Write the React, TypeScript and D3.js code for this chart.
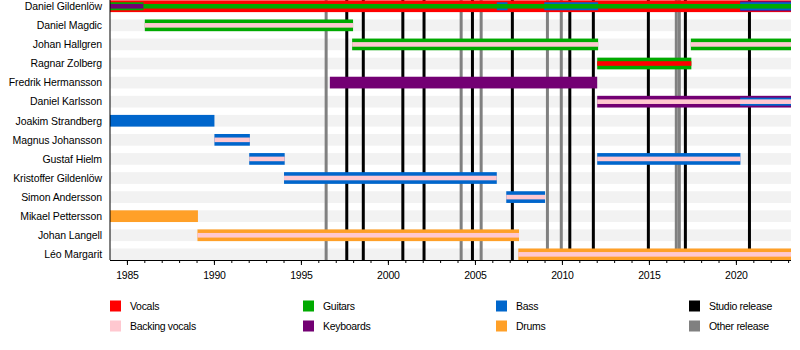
import React from "react";
import * as d3 from "d3";

const START = "1984-01-01";
const END = "2023-02-20";

const members = [
  "Daniel Gildenlöw",
  "Daniel Magdic",
  "Johan Hallgren",
  "Ragnar Zolberg",
  "Fredrik Hermansson",
  "Daniel Karlsson",
  "Joakim Strandberg",
  "Magnus Johansson",
  "Gustaf Hielm",
  "Kristoffer Gildenlöw",
  "Simon Andersson",
  "Mikael Pettersson",
  "Johan Langell",
  "Léo Margarit",
];

const roles = ["Vocals", "Backing vocals", "Guitars", "Keyboards", "Bass", "Drums"];
const roleColors = ["#ff0000", "#ffc8d0", "#00aa00", "#730073", "#0066cc", "#ffa028"];
const releaseKinds = ["Studio release", "Other release"];
const releaseColors = ["#000000", "#808080"];

// tenure: member, role, from, till, layer (0 = main role, higher = inner stripes)
const tenureMember = [
  "Daniel Gildenlöw", "Daniel Gildenlöw", "Daniel Gildenlöw", "Daniel Gildenlöw",
  "Daniel Gildenlöw", "Daniel Gildenlöw", "Daniel Gildenlöw", "Daniel Gildenlöw",
  "Daniel Magdic", "Daniel Magdic",
  "Johan Hallgren", "Johan Hallgren", "Johan Hallgren", "Johan Hallgren",
  "Ragnar Zolberg", "Ragnar Zolberg",
  "Fredrik Hermansson",
  "Daniel Karlsson", "Daniel Karlsson", "Daniel Karlsson",
  "Joakim Strandberg",
  "Magnus Johansson", "Magnus Johansson",
  "Gustaf Hielm", "Gustaf Hielm", "Gustaf Hielm", "Gustaf Hielm",
  "Kristoffer Gildenlöw", "Kristoffer Gildenlöw",
  "Simon Andersson", "Simon Andersson",
  "Mikael Pettersson",
  "Johan Langell", "Johan Langell",
  "Léo Margarit", "Léo Margarit",
];
const tenureRole = [
  "Vocals", "Guitars", "Keyboards", "Guitars", "Bass", "Bass", "Keyboards", "Bass",
  "Guitars", "Backing vocals",
  "Guitars", "Backing vocals", "Guitars", "Backing vocals",
  "Guitars", "Vocals",
  "Keyboards",
  "Keyboards", "Bass", "Backing vocals",
  "Bass",
  "Bass", "Backing vocals",
  "Bass", "Backing vocals", "Bass", "Backing vocals",
  "Bass", "Backing vocals",
  "Bass", "Backing vocals",
  "Drums",
  "Drums", "Backing vocals",
  "Drums", "Backing vocals",
];
const tenureFrom = [
  START, START, START, "1985-12-05", "2006-03-25", "2008-12-15", "2020-03-20", "2020-03-20",
  "1986-01-01", "1986-01-01",
  "1997-12-01", "1997-12-01", "2017-05-20", "2017-05-20",
  "2012-01-01", "2012-01-01",
  "1996-08-20",
  "2012-01-01", "2020-03-20", "2012-01-01",
  START,
  "1990-01-01", "1990-01-01",
  "1992-01-01", "1992-01-01", "2012-01-01", "2012-01-01",
  "1994-01-01", "1994-01-01",
  "2006-10-10", "2006-10-10",
  START,
  "1989-01-10", "1989-01-10",
  "2007-06-20", "2007-06-20",
];
const tenureTill = [
  END, "1985-12-05", "1985-12-05", END, "2006-11-05", "2012-01-20", END, END,
  "1997-12-20", "1997-12-20",
  "2012-01-20", "2012-01-20", END, END,
  "2017-05-30", "2017-05-30",
  "2012-01-01",
  END, END, END,
  "1990-01-01",
  "1992-01-15", "1992-01-15",
  "1994-01-15", "1994-01-15", "2020-03-25", "2020-03-25",
  "2006-03-25", "2006-03-25",
  "2009-01-01", "2009-01-01",
  "1989-01-20",
  "2007-07-05", "2007-07-05",
  END, END,
];
const tenureLayer = [
  0, 2, 3, 3, 2, 2, 1, 2,
  0, 3,
  0, 3, 0, 3,
  0, 3,
  0,
  0, 2, 3,
  0,
  0, 3,
  0, 3, 0, 3,
  0, 3,
  0, 3,
  0,
  0, 3,
  0, 3,
];

const studioReleases = [
  "1997-08-10", "1998-07-23", "2000-10-30", "2002-01-18", "2004-10-30",
  "2007-02-15", "2010-06-05", "2011-10-12", "2014-12-10", "2017-01-25", "2020-10-01",
];
const otherReleases = [
  "1996-06-03", "2004-03-07", "2005-05-01", "2009-02-20", "2009-12-08",
  "2016-07-18", "2016-09-20",
];

const majorTicks = [1985, 1990, 1995, 2000, 2005, 2010, 2015, 2020];

const W = 800;
const H = 350;
const plotLeft = 110;
const plotRight = 791;
const plotTop = 0.4;
const plotBottom = 260.2;
const axisY = 260;
const layerHeights = [11.7, 10, 8, 4.6];

export default function App() {
  const parse = d3.timeParse("%Y-%m-%d");
  const x = d3.scaleTime().domain([parse(START)!, parse(END)!]).range([plotLeft, plotRight]);
  const y = d3
    .scaleBand<string>()
    .domain(members)
    .range([plotTop, plotBottom])
    .paddingInner(0.387)
    .paddingOuter(0);
  const bw = y.bandwidth();
  const color = d3.scaleOrdinal<string, string>().domain(roles).range(roleColors);

  const tenures = tenureMember.map((m, i) => ({
    member: m,
    role: tenureRole[i],
    from: parse(tenureFrom[i])!,
    till: parse(tenureTill[i])!,
    layer: tenureLayer[i],
    idx: i,
  }));
  const ordered = [...tenures].sort((a, b) => a.layer - b.layer || a.idx - b.idx);

  const minorTicks = d3.range(1985, 2024).map((yr) => new Date(yr, 0, 1));

  const legendItems = [
    ...roles.map((r, i) => ({ label: r, color: roleColors[i] })),
    ...releaseKinds.map((r, i) => ({ label: r, color: releaseColors[i] })),
  ];
  const font = "'Liberation Sans', Arial, Helvetica, sans-serif";

  return (
    <svg
      width={W}
      height={H}
      style={{ position: "absolute", left: 0, top: 0, background: "#fff" }}
      fontFamily={font}
    >
      <rect x={0} y={0} width={W} height={H} fill="#fff" />
      {members.map((m) => (
        <rect key={"bg" + m} x={plotLeft} y={y(m)} width={plotRight - plotLeft} height={bw} fill="#f2f2f2" />
      ))}
      {otherReleases.map((d, i) => {
        const xx = x(parse(d)!);
        return <line key={"o" + i} x1={xx} x2={xx} y1={0} y2={axisY} stroke={releaseColors[1]} strokeWidth={3} />;
      })}
      {studioReleases.map((d, i) => {
        const xx = x(parse(d)!);
        return <line key={"s" + i} x1={xx} x2={xx} y1={0} y2={axisY} stroke={releaseColors[0]} strokeWidth={3} />;
      })}
      {ordered.map((t) => {
        const h = layerHeights[t.layer];
        const cy = (y(t.member) as number) + bw / 2;
        return (
          <rect
            key={"t" + t.idx}
            x={x(t.from)}
            y={cy - h / 2}
            width={x(t.till) - x(t.from)}
            height={h}
            fill={color(t.role)}
          />
        );
      })}
      <line x1={plotLeft} x2={plotLeft} y1={0} y2={axisY} stroke="#000" strokeWidth={1} />
      <line x1={plotLeft} x2={plotRight} y1={axisY + 0.5} y2={axisY + 0.5} stroke="#000" strokeWidth={1} />
      {minorTicks.map((d, i) => (
        <line key={"mt" + i} x1={x(d)} x2={x(d)} y1={axisY} y2={axisY + 3} stroke="#000" strokeWidth={1} />
      ))}
      {majorTicks.map((yr) => {
        const xx = x(new Date(yr, 0, 1));
        return (
          <g key={"MT" + yr}>
            <line x1={xx} x2={xx} y1={axisY} y2={axisY + 5} stroke="#000" strokeWidth={1} />
            <text x={xx} y={279} textAnchor="middle" fontSize={10.5} letterSpacing={-0.2} fill="#000">
              {yr}
            </text>
          </g>
        );
      })}
      {members.map((m) => (
        <text
          key={"l" + m}
          x={102}
          y={(y(m) as number) + bw / 2 + 3.8}
          textAnchor="end"
          fontSize={10.5}
          letterSpacing={-0.1}
          fill="#000"
        >
          {m}
        </text>
      ))}
      {legendItems.map((it, i) => {
        const col = Math.floor(i / 2);
        const row = i % 2;
        const lx = 110 + col * 193;
        const ly = 306 + row * 20;
        return (
          <g key={"lg" + i}>
            <rect x={lx} y={ly - 5.5} width={11} height={11} fill={it.color} />
            <text x={lx + 20} y={ly + 3.8} fontSize={10.5} letterSpacing={-0.3} fill="#000">
              {it.label}
            </text>
          </g>
        );
      })}
    </svg>
  );
}
